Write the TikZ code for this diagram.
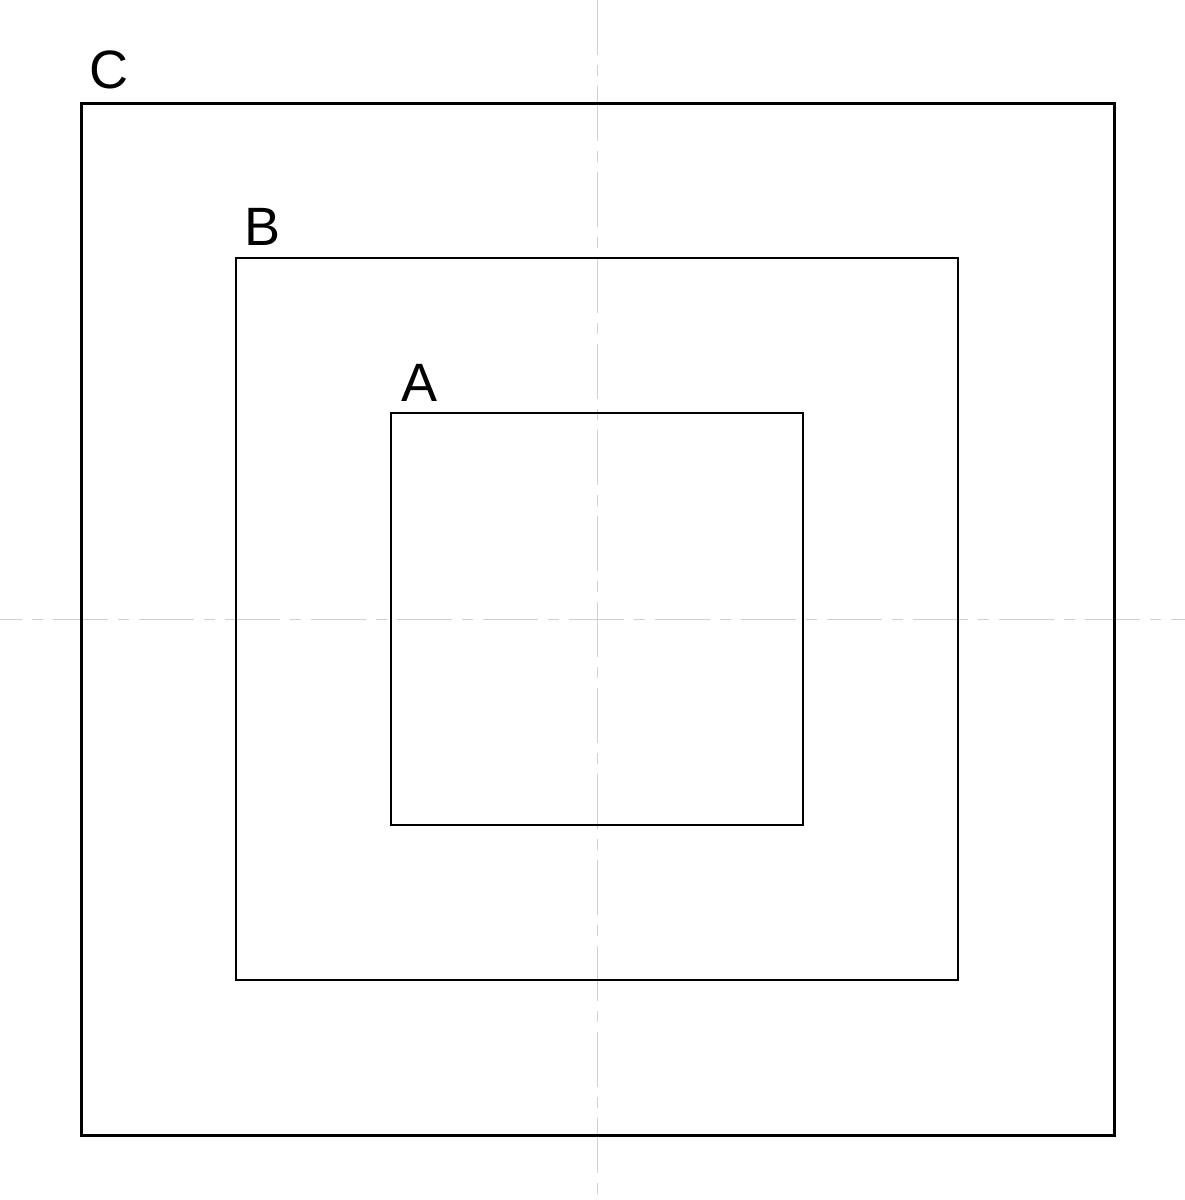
\documentclass[tikz,border=0pt]{standalone}
\usepackage{fontspec}
\setmainfont{Liberation Sans}
\begin{document}
\begin{tikzpicture}[x=1pt,y=-1pt,
  axis/.style={draw=black!18,line width=1pt,dash pattern=on 55pt off 10pt on 11pt off 10pt},
  boxlabel/.style={anchor=base west,inner sep=0pt,font=\fontsize{54}{54}\selectfont}]
\useasboundingbox (0,0) rectangle (1185,1200);
\fill[white] (0,0) rectangle (1185,1200);
\coordinate (vt) at (597,0);
\coordinate (vb) at (597,1200);
\coordinate (hl) at (-33,619);
\coordinate (hr) at (1185,619);
\draw[axis] (vt) -- (vb);
\draw[axis] (hl) -- (hr);
\draw[line width=3pt] (81,103) rectangle (1114,1135);
\draw[line width=2pt] (236,258) rectangle (958,980);
\draw[line width=1.3pt] (391,413) rectangle (803,825);
\node[boxlabel] (lc) at (89.5,88) {C};
\node[boxlabel] (lb) at (244,245) {B};
\node[boxlabel] (la) at (401,401) {A};
\end{tikzpicture}
\end{document}
